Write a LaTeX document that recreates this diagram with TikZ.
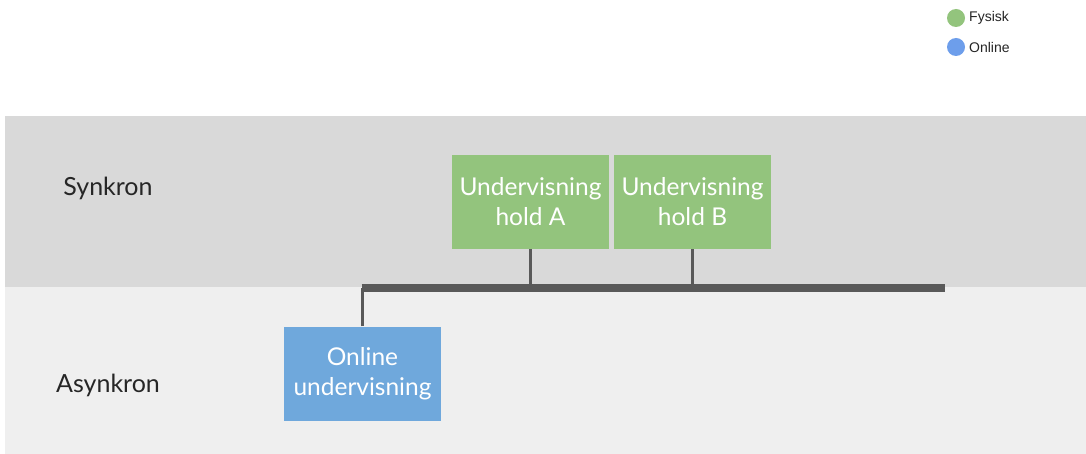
\documentclass[tikz,border=0pt]{standalone}
\usepackage{fontspec}
\setmainfont{Lato}
\newfontfamily\legendfont{Liberation Sans}
\definecolor{fysisk}{HTML}{93C47D}
\definecolor{online}{HTML}{6FA8DC}
\definecolor{onlinedot}{HTML}{6D9EEB}
\definecolor{bandA}{HTML}{D9D9D9}
\definecolor{bandB}{HTML}{EFEFEF}
\definecolor{barcol}{HTML}{595959}
\begin{document}
\begin{tikzpicture}[x=1pt,y=-1pt,
  box/.style={draw=none,minimum width=157pt,minimum height=94pt,inner sep=0pt,
    text=white,align=center,font=\fontsize{24.5}{30}\selectfont},
  lbl/.style={font=\fontsize{25}{28}\selectfont,text=black!85},
  conn/.style={draw=barcol,line width=2.2pt},
  legtxt/.style={font=\legendfont\fontsize{14}{16}\selectfont,anchor=west,inner sep=0pt,text=black!85}]
\useasboundingbox (0,0) rectangle (1086,454);
\fill[white] (0,0) rectangle (1086,454);
\fill[bandA] (5,116) rectangle (1086,287);
\fill[bandB] (5,287) rectangle (1086,454);
\node[lbl] (syn) at (108,188) {Synkron};
\node[lbl] (asyn) at (108,385) {Asynkron};
\node[box,fill=fysisk] (A) at (530.5,202) {Undervisning\\hold A};
\node[box,fill=fysisk] (B) at (692.5,202) {Undervisning\\hold B};
\node[box,fill=online] (O) at (362.5,373.5) {Online\\undervisning};
\coordinate (bl) at (361.5,288);
\coordinate (br) at (945,288);
\draw[draw=barcol,line width=8pt] (bl) -- (br);
\draw[conn] (A.south) -- (A.south |- bl);
\draw[conn] (B.south) -- (B.south |- bl);
\draw[conn] (O.north) -- (O.north |- bl);
\fill[fysisk] (956,18) circle (9);
\fill[onlinedot] (956,47) circle (9);
\node[legtxt] (lf) at (969,18) {Fysisk};
\node[legtxt] (lo) at (969,47) {Online};
\end{tikzpicture}
\end{document}
